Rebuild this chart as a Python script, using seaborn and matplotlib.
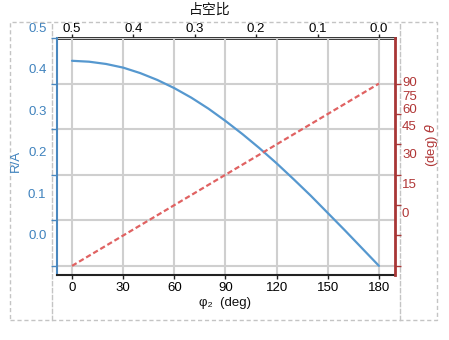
import matplotlib
matplotlib.use("Agg")
import matplotlib.pyplot as plt
import seaborn as sns
from matplotlib.patches import Rectangle

# Phase shift phi2 (deg) and normalised amplitude R/A
phi2_deg = [0, 10, 20, 30, 40, 50, 60, 70, 80, 90,
            100, 110, 120, 130, 140, 150, 160, 170, 180]
r_over_a = [0.450, 0.448, 0.443, 0.435, 0.423, 0.408, 0.390, 0.369, 0.345, 0.318,
            0.289, 0.258, 0.225, 0.190, 0.154, 0.116, 0.078, 0.039, 0.000]

# Phase angle theta (deg) against phi2
theta_phi2 = [0, 180]
theta_deg = [0, 90]

x_ticks = [0, 30, 60, 90, 120, 150, 180]
duty_ticks = [0.5, 0.4, 0.3, 0.2, 0.1, 0.0]
ra_ticks = [0.0, 0.1, 0.2, 0.3, 0.4, 0.5]
ra_tick_labels = ["0.0", "0.1", "0.2", "0.3", "0.4", "0.5"]
theta_ticks = [0, 15, 30, 45, 60, 75, 90]
theta_tick_labels = ["0", "15", "30", "45", "60", "75", "90"]
# vertical placement of the theta tick labels (pixel rows from the top)
theta_label_rows = [214, 184.5, 155, 127, 110, 97.5, 83]

W, H, DPI = 449, 340, 100
BLUE_LINE = "#5698cf"
BLUE_AXIS = "#4a88bf"
BLUE_TEXT = "#3f82bd"
RED_LINE = "#e06262"
RED_AXIS = "#a83636"
RED_TEXT = "#b03636"
GRID = "#cfcfcf"
FRAME = "#c4c4c4"
FS = 9.5

sns.set_theme(style="white")
plt.rcParams["font.family"] = ["Liberation Sans", "DejaVu Sans", "Noto Sans CJK SC"]
plt.rcParams["mathtext.fontset"] = "dejavusans"


def fx(px):
    return px / W


def fy(py):
    return 1 - py / H


fig = plt.figure(figsize=(W / DPI, H / DPI), dpi=DPI)
fig.patch.set_facecolor("white")

# dashed outer frame
fig.add_artist(Rectangle((fx(10), fy(320)), fx(437) - fx(10), fy(22) - fy(320),
                         transform=fig.transFigure, fill=False, ec=FRAME,
                         lw=1, ls=(0, (3, 2))))

# inner frame holding the R/A tick labels
frame = fig.add_axes([fx(52), fy(320), fx(400) - fx(52), fy(22) - fy(320)])
frame.set_facecolor("none")
for side in ("top", "bottom"):
    frame.spines[side].set_visible(False)
for side in ("left", "right"):
    frame.spines[side].set_color(FRAME)
    frame.spines[side].set_linewidth(1)
    frame.spines[side].set_linestyle((0, (3, 2)))
frame.set_xticks([])
frame.set_ylim(-0.205, 0.513)
frame.set_yticks(ra_ticks)
frame.set_yticklabels(ra_tick_labels)
frame.tick_params(axis="y", length=0, pad=4, labelsize=FS, labelcolor=BLUE_TEXT)

# main axes
ax = fig.add_axes([fx(57), fy(275), fx(395) - fx(57), fy(38) - fy(275)])
ax.set_facecolor("white")
sns.lineplot(x=phi2_deg, y=r_over_a, ax=ax, color=BLUE_LINE, lw=1.6, zorder=3)
ax.set_xlim(-8.8, 189.4)
ax.set_ylim(-0.02, 0.5)
ax.set_xticks(x_ticks)
ax.set_yticks(ra_ticks)
ax.set_yticklabels([])
ax.grid(True, color=GRID, lw=1.5)
ax.set_axisbelow(True)
ax.tick_params(axis="x", bottom=True, length=3, width=1, color="#222222",
               labelsize=FS, labelcolor="black", pad=2)
ax.tick_params(axis="y", left=True, length=4, width=1, color=BLUE_AXIS)
ax.spines["left"].set_color(BLUE_AXIS)
ax.spines["left"].set_linewidth(1.5)
ax.spines["bottom"].set_color("#222222")
ax.spines["bottom"].set_linewidth(1.5)
ax.spines["top"].set_visible(False)
ax.spines["right"].set_visible(False)
ax.set_xlabel("")
ax.set_ylabel("")

# duty ratio on the top axis
top = ax.secondary_xaxis("top", functions=(lambda p: (180 - p) / 360,
                                          lambda d: 180 - 360 * d))
top.set_xticks(duty_ticks)
top.set_xticklabels([f"{d:.1f}" for d in duty_ticks])
top.tick_params(axis="x", length=3, width=1, color="#222222", labelsize=FS,
                labelcolor="black", pad=-0.8)
top.spines["top"].set_color("#222222")
top.spines["top"].set_linewidth(2)

# theta on the right axis
ax2 = ax.twinx()
sns.lineplot(x=theta_phi2, y=theta_deg, ax=ax2, color=RED_LINE, lw=1.6,
             linestyle=(0, (2.4, 1.3)), zorder=3)
ax2.set_ylim(-4.5, 112.5)
ax2.set_yticks(theta_ticks)
ax2.tick_params(axis="y", right=True, length=4, width=1, color=RED_AXIS,
                labelright=False)
for side in ("left", "top", "bottom"):
    ax2.spines[side].set_visible(False)
ax2.spines["right"].set_color(RED_AXIS)
ax2.spines["right"].set_linewidth(2)
ax2.set_ylabel("")

for lab, row in zip(theta_tick_labels, theta_label_rows):
    fig.text(fx(402), fy(row), lab, ha="left", va="center",
             fontsize=FS, color=RED_TEXT)

# axis titles
fig.text(fx(210), fy(10), "占空比", ha="center", va="center", fontsize=FS + 0.5,
         family=["Noto Sans CJK SC", "DejaVu Sans"], color="#111111")
fig.text(fx(225), fy(303), "φ₂  (deg)", ha="center", va="center", fontsize=FS,
         color="#111111")
fig.text(fx(16), fy(161), "R/A", ha="center", va="center", rotation=90,
         fontsize=FS, color=BLUE_TEXT)
fig.text(fx(431), fy(145), "(deg) $\\theta$", ha="center", va="center", rotation=90,
         fontsize=FS, color=RED_TEXT)

fig.savefig("out.png", dpi=DPI, facecolor="white")
